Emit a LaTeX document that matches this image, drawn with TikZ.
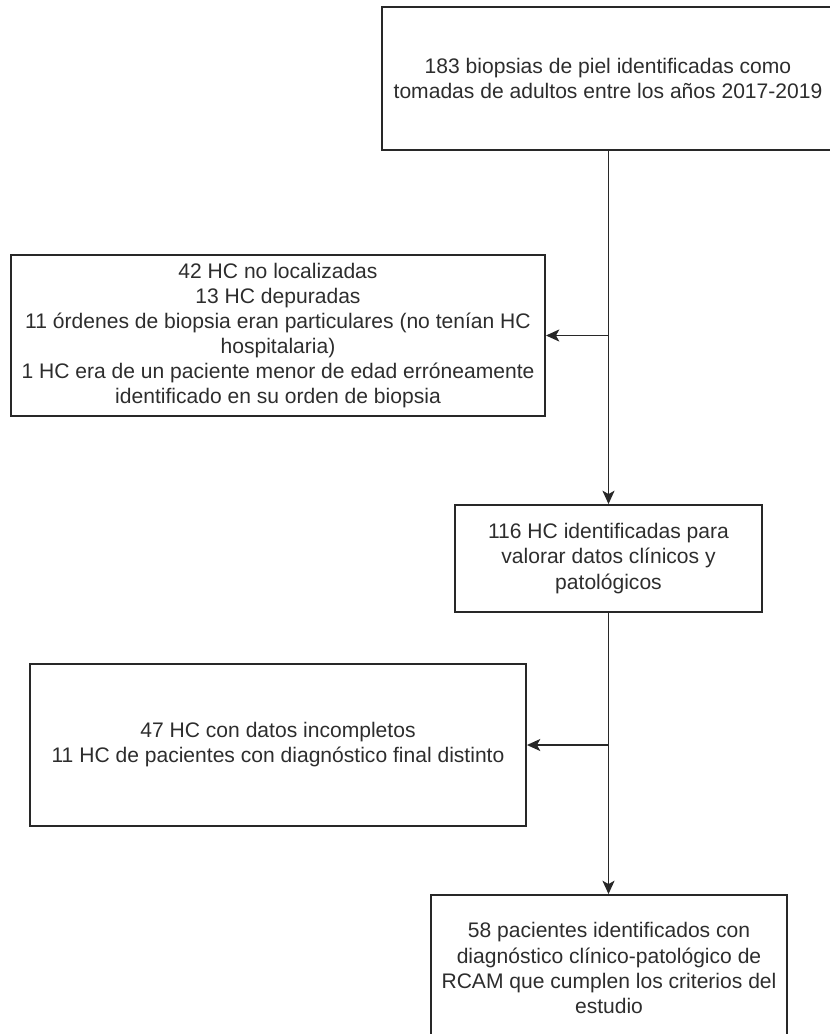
\documentclass[tikz,border=0pt]{standalone}
\usepackage{fontspec}
\setmainfont{Liberation Sans}
\usetikzlibrary{arrows.meta}
\definecolor{linegray}{RGB}{40,40,40}
\definecolor{textgray}{RGB}{45,45,45}
\begin{document}
\begin{tikzpicture}[x=0.75pt,y=0.75pt,yscale=-1,xscale=1,
  flowbox/.style={draw=linegray,line width=1.4pt,rectangle,inner sep=0pt,align=center,
    text=textgray,font=\fontsize{15.8}{18.8}\selectfont},
  flowline/.style={draw=linegray,line width=1.4pt},
  flowarrow/.style={flowline,-{Stealth[length=10pt,width=9pt,inset=2.5pt]}}]
\useasboundingbox (0,0) rectangle (829,1034);
% Shape: Rectangle [top]
\node (biopsias) [flowbox,minimum width=452*0.75pt,minimum height=143*0.75pt] at (608,78.5)
  {183 biopsias de piel identificadas como\\tomadas de adultos entre los años 2017-2019};
% Shape: Rectangle [first exclusions]
\node (excl1) [flowbox,minimum width=534*0.75pt,minimum height=161*0.75pt] at (278,335.5)
  {42 HC no localizadas\\13 HC depuradas\\11 órdenes de biopsia eran particulares (no tenían HC\\hospitalaria)\\1 HC era de un paciente menor de edad erróneamente\\identificado en su orden de biopsia};
% Shape: Rectangle [middle]
\node (hc) [flowbox,minimum width=307*0.75pt,minimum height=107*0.75pt] at (608.5,558.5)
  {116 HC identificadas para\\valorar datos clínicos y\\patológicos};
% Shape: Rectangle [second exclusions]
\node (excl2) [flowbox,minimum width=496*0.75pt,minimum height=162*0.75pt] at (278,745)
  {47 HC con datos incompletos\\11 HC de pacientes con diagnóstico final distinto};
% Shape: Rectangle [bottom]
\node (rcam) [flowbox,minimum width=356*0.75pt,minimum height=146*0.75pt] at (609,968)
  {58 pacientes identificados con\\diagnóstico clínico-patológico de\\RCAM que cumplen los criterios del\\estudio};
% Straight Lines
\draw [flowarrow] (biopsias.south -| hc.north) -- (hc.north);
\draw [flowarrow] (hc.south) -- (rcam.north -| hc.south);
\coordinate (split1) at (hc.north |- excl1.east);
\coordinate (split2) at (hc.south |- excl2.east);
\draw [flowarrow] (split1) -- (excl1.east);
\draw [flowarrow] (split2) -- (excl2.east);
\end{tikzpicture}
\end{document}
